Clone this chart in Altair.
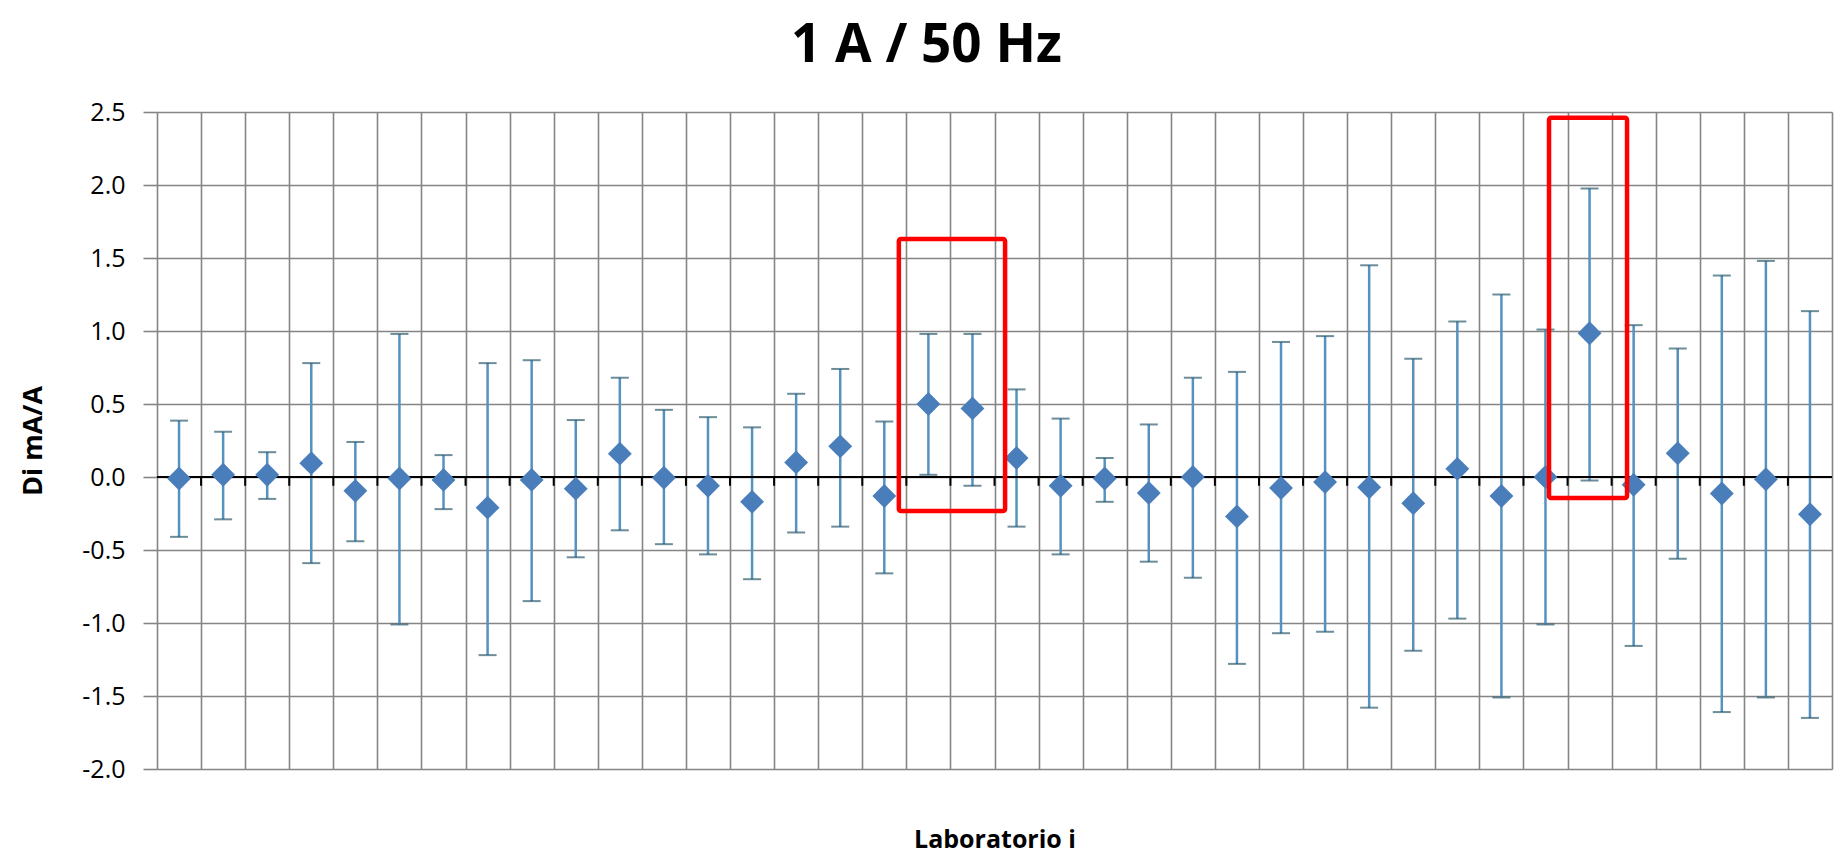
import altair as alt
import pandas as pd

# ---- data ----
labs = list(range(1, 39))
di = [-0.01, 0.015, 0.015, 0.095, -0.095, -0.01, -0.02, -0.21, -0.02, -0.08,
      0.16, -0.005, -0.06, -0.17, 0.10, 0.21, -0.13, 0.50, 0.47, 0.13,
      -0.06, -0.01, -0.11, 0.0, -0.27, -0.075, -0.035, -0.07, -0.18, 0.056,
      -0.13, 0.0, 0.985, -0.053, 0.163, -0.113, -0.015, -0.255]
upper = [0.386, 0.31, 0.17, 0.78, 0.24, 0.98, 0.15, 0.78, 0.80, 0.39,
         0.68, 0.46, 0.41, 0.34, 0.57, 0.74, 0.38, 0.98, 0.98, 0.60,
         0.40, 0.13, 0.36, 0.68, 0.72, 0.925, 0.965, 1.45, 0.81, 1.065,
         1.25, 1.01, 1.976, 1.04, 0.88, 1.38, 1.48, 1.136]
lower = [-0.41, -0.29, -0.15, -0.59, -0.44, -1.01, -0.22, -1.22, -0.85, -0.55,
         -0.365, -0.46, -0.53, -0.70, -0.38, -0.34, -0.66, 0.015, -0.06, -0.34,
         -0.53, -0.17, -0.58, -0.69, -1.28, -1.07, -1.06, -1.58, -1.19, -0.97,
         -1.51, -1.01, -0.024, -1.157, -0.56, -1.61, -1.51, -1.65]
y_ticks = [-2.0, -1.5, -1.0, -0.5, 0.0, 0.5, 1.0, 1.5, 2.0, 2.5]

# highlighted boxes (data coordinates)
box_x1 = [17.33, 32.08]
box_x2 = [19.74, 33.85]
box_y1 = [-0.233, -0.144]
box_y2 = [1.63, 2.46]

title = "1 A / 50 Hz"
x_title = "Laboratorio i"
y_title = "Di mA/A"

df = pd.DataFrame({"lab": labs, "di": di, "upper": upper, "lower": lower})
bounds = [l + 0.5 for l in labs[:-1]]
grid_vals = [labs[0] - 0.5] + bounds + [labs[-1] + 0.5]
bdf = pd.DataFrame({"b": bounds})
boxes = pd.DataFrame({"x1": box_x1, "x2": box_x2, "y1": box_y1, "y2": box_y2})

FONT = "Open Sans"

xscale = alt.Scale(domain=[labs[0] - 0.5, labs[-1] + 0.5], nice=False, zero=False)
yscale = alt.Scale(domain=[y_ticks[0], y_ticks[-1]], nice=False, zero=False)

x_axis = alt.Axis(values=grid_vals, labels=False, ticks=False, domain=False,
                  grid=True, gridColor="#858585", gridWidth=1.6,
                  title=x_title, titleFont=FONT, titleFontSize=25,
                  titleFontWeight="bold", titleColor="#000", titlePadding=58)
y_axis = alt.Axis(values=y_ticks, format=".1f",
                  labelExpr="replace(format(datum.value, '.1f'), '\u2212', '-')",
                  grid=True, gridColor="#858585",
                  gridWidth=1.6, domain=False, tickColor="#858585", tickSize=14,
                  tickWidth=1.6, labelFont=FONT, labelFontSize=25,
                  labelColor="#000", labelPadding=18,
                  title=y_title, titleFont=FONT, titleFontSize=27,
                  titleFontWeight="bold", titleColor="#000", titlePadding=34)

base = alt.Chart(df)

stems = base.mark_rule(color="#5592bf", strokeWidth=2.5).encode(
    x=alt.X("lab:Q", scale=xscale, axis=x_axis),
    y=alt.Y("lower:Q", scale=yscale, axis=y_axis),
    y2="upper:Q",
)
caps_hi = base.mark_tick(orient="horizontal", color="#2d5d6e", size=18, thickness=2).encode(
    x="lab:Q", y="upper:Q")
caps_lo = base.mark_tick(orient="horizontal", color="#2d5d6e", size=18, thickness=2).encode(
    x="lab:Q", y="lower:Q")

zero = alt.Chart(pd.DataFrame({"z": [0.0]})).mark_rule(color="#000", strokeWidth=2).encode(
    y="z:Q")
zticks = alt.Chart(bdf).mark_rule(color="#000", strokeWidth=2).encode(
    x="b:Q", y=alt.datum(0.0), y2=alt.datum(-0.06))

points = base.mark_point(shape="diamond", filled=True, size=570, opacity=1,
                         color="#4a7ebb").encode(x="lab:Q", y="di:Q")

rects = alt.Chart(boxes).mark_rect(fillOpacity=0, stroke="#ff0000", strokeWidth=4.5,
                                   cornerRadius=2).encode(
    x="x1:Q", x2="x2:Q", y="y1:Q", y2="y2:Q")

chart = alt.layer(stems, caps_hi, caps_lo, zero, zticks, points, rects).properties(
    width=1675, height=657,
    padding={"left": 157, "top": 112, "right": 11, "bottom": 91},
    autosize=alt.AutoSizeParams(type="none"),
    title=alt.TitleParams(title, font=FONT, fontSize=53, fontWeight="bold",
                          color="#000", anchor="middle", frame="bounds", offset=27),
).configure_view(stroke="#222", strokeWidth=1.8).configure(background="white")

chart.save("out.html", embed_options={"renderer": "svg", "actions": False})
